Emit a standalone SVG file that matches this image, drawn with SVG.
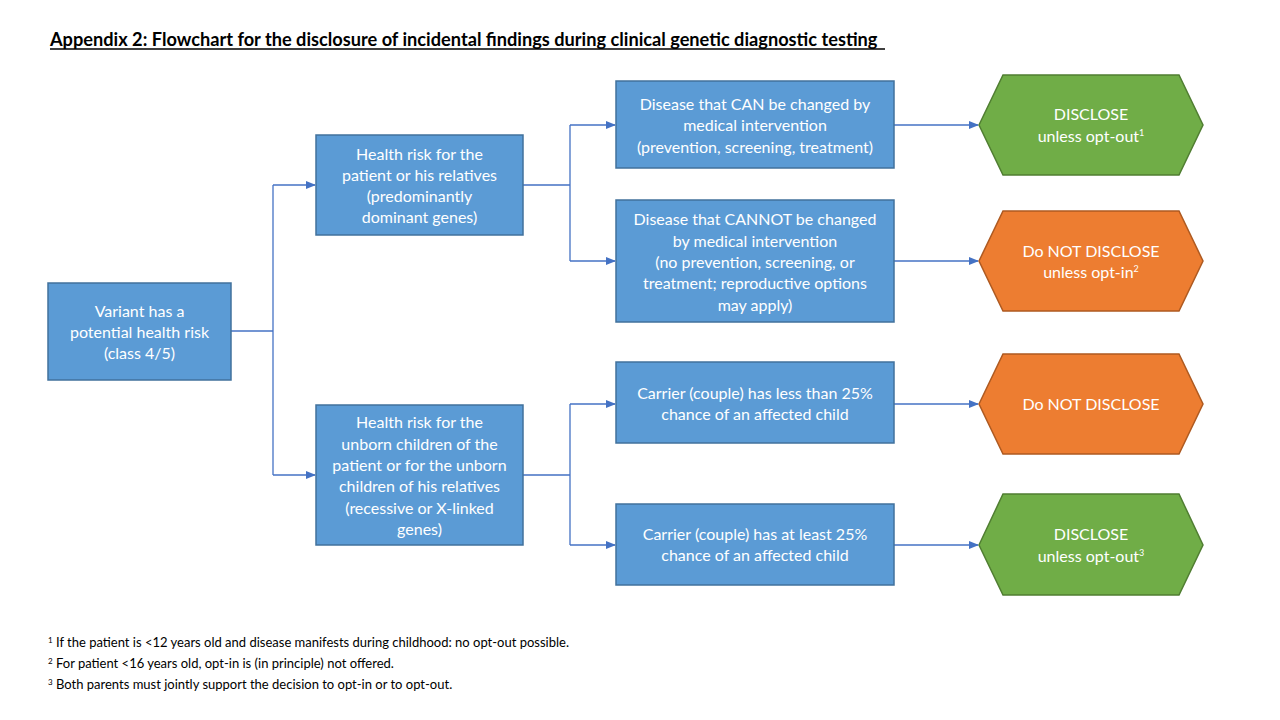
<svg xmlns="http://www.w3.org/2000/svg" width="1280" height="720" viewBox="0 0 1280 720">
<style>
.box{fill:#5b9bd5;stroke:#41719c;stroke-width:1.5}
.green{fill:#70ad47;stroke:#507e32;stroke-width:1.5}
.orange{fill:#ed7d31;stroke:#ae5a21;stroke-width:1.5}
.t{font-family:Lato,"Liberation Sans",sans-serif;font-size:16px;fill:#fff;text-anchor:middle}
.c{fill:none;stroke:#4472c4;stroke-width:1.3}
.fn{font-family:Lato,"Liberation Sans",sans-serif;font-size:13px;fill:#000}
.title{font-family:Lato,"Liberation Sans",sans-serif;font-size:18.2px;font-weight:bold;fill:#000}
</style>
<defs>
<marker id="arr" markerWidth="10" markerHeight="10" refX="9" refY="5" orient="auto" markerUnits="userSpaceOnUse">
<path d="M0,1 L10,5 L0,9 Z" fill="#4472c4"/>
</marker>
</defs>
<rect width="1280" height="720" fill="#fff"/>
<text class="title" x="50" y="46">Appendix 2: Flowchart for the disclosure of incidental findings during clinical genetic diagnostic testing</text>
<line x1="50" y1="49" x2="885" y2="49" stroke="#000" stroke-width="1.3"/>

<g id="connectors">
<path class="c" d="M231,331 H273"/>
<path class="c" d="M273,185 V475"/>
<path class="c" d="M273,185 H315" marker-end="url(#arr)"/>
<path class="c" d="M273,475 H315" marker-end="url(#arr)"/>
<path class="c" d="M523,185 H570 M570,125 V261"/>
<path class="c" d="M570,125 H615" marker-end="url(#arr)"/>
<path class="c" d="M570,261 H615" marker-end="url(#arr)"/>
<path class="c" d="M523,475 H570 M570,404 V545"/>
<path class="c" d="M570,404 H615" marker-end="url(#arr)"/>
<path class="c" d="M570,545 H615" marker-end="url(#arr)"/>
<path class="c" d="M894,125 H978" marker-end="url(#arr)"/>
<path class="c" d="M894,261 H978" marker-end="url(#arr)"/>
<path class="c" d="M894,404 H978" marker-end="url(#arr)"/>
<path class="c" d="M894,545 H978" marker-end="url(#arr)"/>
</g>

<g id="variant">
<rect class="box" x="48" y="283" width="183" height="97"/>
<text class="t" x="139.5" y="317">Variant has a</text>
<text class="t" x="139.5" y="338">potential health risk</text>
<text class="t" x="139.5" y="359">(class 4/5)</text>
</g>

<g id="health-risk-patient">
<rect class="box" x="316" y="135" width="207" height="100"/>
<text class="t" x="419.5" y="160">Health risk for the</text>
<text class="t" x="419.5" y="181">patient or his relatives</text>
<text class="t" x="419.5" y="202">(predominantly</text>
<text class="t" x="419.5" y="223">dominant genes)</text>
</g>

<g id="health-risk-unborn">
<rect class="box" x="316" y="405" width="207" height="140"/>
<text class="t" x="419.5" y="428">Health risk for the</text>
<text class="t" x="419.5" y="450">unborn children of the</text>
<text class="t" x="419.5" y="471">patient or for the unborn</text>
<text class="t" x="419.5" y="492">children of his relatives</text>
<text class="t" x="419.5" y="514">(recessive or X-linked</text>
<text class="t" x="419.5" y="535">genes)</text>
</g>

<g id="can-change">
<rect class="box" x="616" y="81" width="278" height="87"/>
<text class="t" x="755" y="110">Disease that CAN be changed by</text>
<text class="t" x="755" y="131">medical intervention</text>
<text class="t" x="755" y="153">(prevention, screening, treatment)</text>
</g>

<g id="cannot-change">
<rect class="box" x="616" y="200" width="278" height="122"/>
<text class="t" x="755" y="225">Disease that CANNOT be changed</text>
<text class="t" x="755" y="247">by medical intervention</text>
<text class="t" x="755" y="268">(no prevention, screening, or</text>
<text class="t" x="755" y="289">treatment; reproductive options</text>
<text class="t" x="755" y="311">may apply)</text>
</g>

<g id="carrier-less">
<rect class="box" x="616" y="362" width="278" height="81"/>
<text class="t" x="755" y="399">Carrier (couple) has less than 25%</text>
<text class="t" x="755" y="420">chance of an affected child</text>
</g>

<g id="carrier-least">
<rect class="box" x="616" y="504" width="278" height="81"/>
<text class="t" x="755" y="540">Carrier (couple) has at least 25%</text>
<text class="t" x="755" y="561">chance of an affected child</text>
</g>

<g id="disclose-1">
<polygon class="green" points="979,125 1003,75 1179,75 1203,125 1179,175 1003,175"/>
<text class="t" x="1091" y="120">DISCLOSE</text>
<text class="t" x="1091" y="142">unless opt-out<tspan font-size="9" dy="-6">1</tspan></text>
</g>

<g id="not-disclose-1">
<polygon class="orange" points="979,261 1003,211 1179,211 1203,261 1179,311 1003,311"/>
<text class="t" x="1091" y="257">Do NOT DISCLOSE</text>
<text class="t" x="1091" y="278">unless opt-in<tspan font-size="9" dy="-6">2</tspan></text>
</g>

<g id="not-disclose-2">
<polygon class="orange" points="979,404 1003,354 1179,354 1203,404 1179,454 1003,454"/>
<text class="t" x="1091" y="410">Do NOT DISCLOSE</text>
</g>

<g id="disclose-2">
<polygon class="green" points="979,545 1003,494 1179,494 1203,545 1179,595 1003,595"/>
<text class="t" x="1091" y="540">DISCLOSE</text>
<text class="t" x="1091" y="562">unless opt-out<tspan font-size="9" dy="-6">3</tspan></text>
</g>

<g id="footnotes">
<text class="fn" x="48" y="647"><tspan font-size="8" dy="-4">1</tspan><tspan dy="4"> If the patient is &lt;12 years old and disease manifests during childhood: no opt-out possible.</tspan></text>
<text class="fn" x="48" y="668"><tspan font-size="8" dy="-4">2</tspan><tspan dy="4"> For patient &lt;16 years old, opt-in is (in principle) not offered.</tspan></text>
<text class="fn" x="48" y="689"><tspan font-size="8" dy="-4">3</tspan><tspan dy="4"> Both parents must jointly support the decision to opt-in or to opt-out.</tspan></text>
</g>
</svg>
